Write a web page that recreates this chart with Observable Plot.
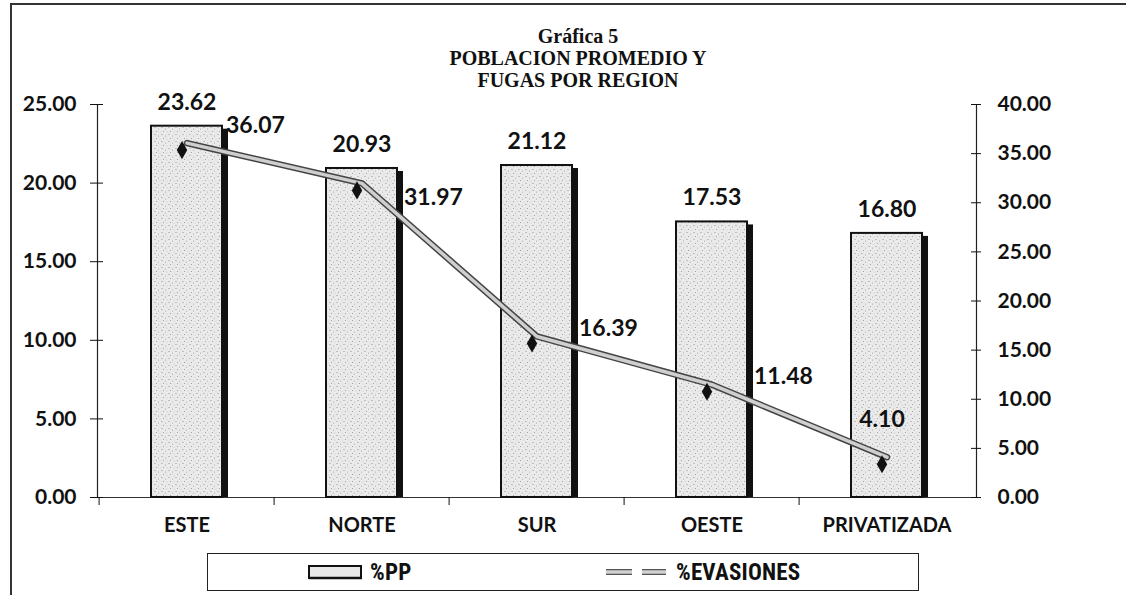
<!DOCTYPE html>
<html>
<head>
<meta charset="utf-8">
<script src="https://cdn.jsdelivr.net/npm/d3@7"></script>
<script src="https://cdn.jsdelivr.net/npm/@observablehq/plot@0.6"></script>
<style>
  html, body { margin: 0; padding: 0; background: #fff; }
  #wrap { position: relative; width: 1126px; height: 595px; overflow: hidden; background:#fff; }
  #chart svg text { font-weight: 700; }
  .title { position: absolute; left: 0; width: 1156px; text-align: center; top: 25px;
           font-family: "Liberation Serif", "Times New Roman", serif; font-weight: 700;
           font-size: 20px; line-height: 22px; color: #111; }
  .bl { position: absolute; background: #333; }
  .legend { position: absolute; left: 207px; top: 553px; width: 712px; height: 38px;
            border: 1.5px solid #222; box-sizing: border-box; }
  .lg { position: absolute; font-family: "Liberation Sans Narrow", "Arial Narrow", "Roboto Condensed", sans-serif;
        font-weight: 700; font-size: 23px; top: 5px; color: #111; letter-spacing: 0.2px; }
</style>
</head>
<body>
<div id="wrap">
  <div id="chart"></div>
  <div class="bl" style="left:10px;top:3px;width:1.5px;height:592px"></div>
  <div class="bl" style="left:10px;top:3px;width:1116px;height:1.5px"></div>
  <div class="title">Gráfica 5<br>POBLACION PROMEDIO Y<br>FUGAS POR REGION</div>
  <div class="legend">
    <svg style="position:absolute;left:100px;top:11px" width="56" height="15">
      <rect x="1" y="1" width="52" height="12" fill="#e8e8e8" stroke="#111" stroke-width="2"></rect>
      <line x1="1" y1="13" x2="54" y2="13" stroke="#111" stroke-width="2.5"></line>
    </svg>
    <div class="lg" style="left:162px">%PP</div>
    <svg style="position:absolute;left:396px;top:11px" width="66" height="15">
      <line x1="2" y1="7" x2="28" y2="7" stroke="#555" stroke-width="6"></line>
      <line x1="2" y1="7" x2="28" y2="7" stroke="#d0d0d0" stroke-width="3.5"></line>
      <line x1="38" y1="7" x2="62" y2="7" stroke="#555" stroke-width="6"></line>
      <line x1="38" y1="7" x2="62" y2="7" stroke="#d0d0d0" stroke-width="3.5"></line>
    </svg>
    <div class="lg" style="left:468px">%EVASIONES</div>
  </div>
</div>
<script>
const regions = ["ESTE", "NORTE", "SUR", "OESTE", "PRIVATIZADA"];
const pp = [23.62, 20.93, 21.12, 17.53, 16.80];
const evasiones = [36.07, 31.97, 16.39, 11.48, 4.10];
const leftTicks = [0, 5, 10, 15, 20, 25];
const rightTicks = [0, 5, 10, 15, 20, 25, 30, 35, 40];
const leftMax = 25, rightMax = 40;

const k = leftMax / rightMax;
const data = regions.map((r, i) => ({region: r, pp: pp[i], ev: evasiones[i], i}));

const W = 1126, H = 595, ML = 97, MR = 150, MT = 104, MB = 98;
const step = (W - ML - MR) / regions.length;
const fmt = d => d.toFixed(2);
const font = "Lato, 'Open Sans', sans-serif";

const chart = Plot.plot({
  width: W, height: H,
  marginLeft: ML, marginRight: MR, marginTop: MT, marginBottom: MB,
  style: {fontFamily: font, color: "#111", background: "transparent"},
  x: {domain: regions, padding: 0, axis: null},
  y: {domain: [0, leftMax], axis: null},
  marks: [
    Plot.frame({anchor: "left", stroke: "#222", strokeWidth: 1.2}),
    Plot.frame({anchor: "right", stroke: "#222", strokeWidth: 1.2}),
    Plot.ruleY([0], {stroke: "#333", strokeWidth: 1.2}),
    // left axis
    Plot.axisY({anchor: "left", ticks: leftTicks, tickSize: 7, tickPadding: 14, tickFormat: fmt, fontSize: 21, label: null}),
    Plot.axisY({anchor: "left", ticks: leftTicks, tickSize: 6, dx: 6, tickFormat: () => "", label: null}),
    // right axis
    Plot.axisY({anchor: "right", ticks: rightTicks.map(t => t * k), tickSize: 4, tickPadding: 17, tickFormat: d => fmt(d / k), fontSize: 21, label: null}),
    Plot.axisY({anchor: "right", ticks: rightTicks.map(t => t * k), tickSize: 6, dx: -6, tickFormat: () => "", label: null}),
    // x axis
    Plot.axisX({tickSize: 0, tickPadding: 20, fontSize: 20, label: null}),
    Plot.axisX({tickSize: 8, dx: -step / 2, tickFormat: () => "", label: null}),
    // bars with shadow
    Plot.barY(data, {x: "region", y: "pp", fill: "#111", dx: 6, insetLeft: 52, insetRight: 52, insetTop: 3}),
    Plot.barY(data, {x: "region", y: "pp", fill: "url(#stip)", stroke: "#111", strokeWidth: 2, insetLeft: 52, insetRight: 52}),
    Plot.text(data, {x: "region", y: "pp", text: d => fmt(d.pp), dy: -24, fontSize: 23}),
    // line
    Plot.line(data, {x: "region", y: d => d.ev * k, stroke: "#444", strokeWidth: 6.5}),
    Plot.line(data, {x: "region", y: d => d.ev * k, stroke: "#cfcfcf", strokeWidth: 3.5}),
    Plot.dot(data, {x: "region", y: d => d.ev * k, symbol: "diamond", fill: "#111", r: 5.5, dx: -5, dy: 7}),
    Plot.text(data, {filter: d => d.i === 0, x: "region", y: d => d.ev * k, text: d => fmt(d.ev), textAnchor: "start", dx: 39, dy: -17, fontSize: 23}),
    Plot.text(data, {filter: d => d.i === 1, x: "region", y: d => d.ev * k, text: d => fmt(d.ev), textAnchor: "start", dx: 42, dy: 14, fontSize: 23}),
    Plot.text(data, {filter: d => d.i === 2 || d.i === 3, x: "region", y: d => d.ev * k, text: d => fmt(d.ev), textAnchor: "start", dx: 42, dy: -8, fontSize: 23}),
    Plot.text(data, {filter: d => d.i === 4, x: "region", y: d => d.ev * k, text: d => fmt(d.ev), dx: -5, dy: -38, fontSize: 23})
  ]
});

// stipple pattern for the bars
const ns = "http://www.w3.org/2000/svg";
const defs = document.createElementNS(ns, "defs");
defs.innerHTML = `<pattern id="stip" width="7" height="7" patternUnits="userSpaceOnUse">
  <rect width="7" height="7" fill="#eaeaea"/>
  <circle cx="1" cy="1.5" r="0.55" fill="#888"/>
  <circle cx="4.5" cy="3" r="0.5" fill="#999"/>
  <circle cx="2.5" cy="5.5" r="0.5" fill="#8a8a8a"/>
  <circle cx="6" cy="6" r="0.45" fill="#aaa"/>
</pattern>`;
chart.insertBefore(defs, chart.firstChild);
document.getElementById("chart").appendChild(chart);
</script>
</body>
</html>
